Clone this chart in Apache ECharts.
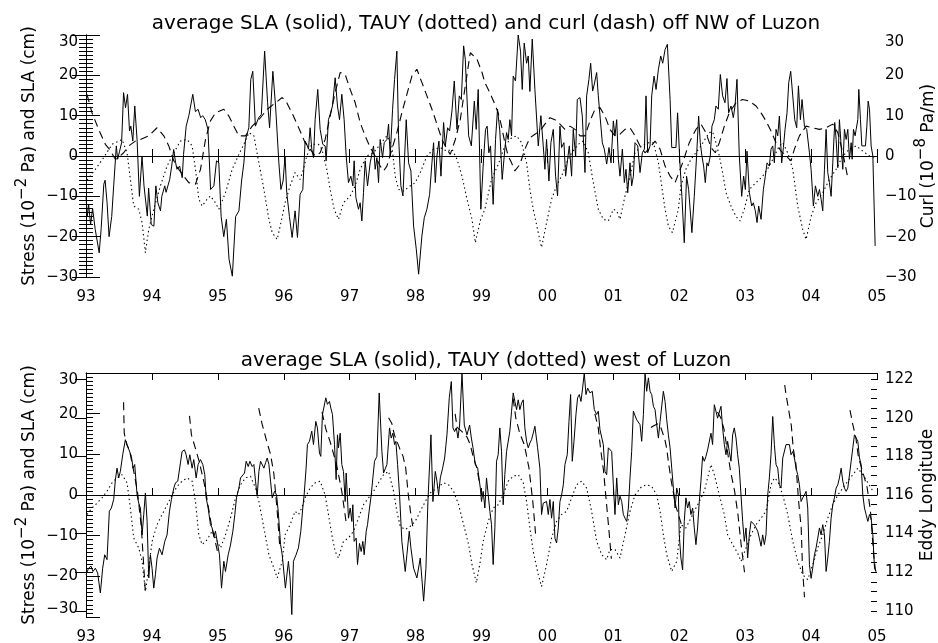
<!DOCTYPE html>
<html>
<head>
<meta charset="utf-8">
<script src="https://cdn.jsdelivr.net/npm/echarts@6/dist/echarts.min.js"></script>
<style>
html, body { margin: 0; background: #fff; }
#chart { width: 938px; height: 643px; }
</style>
</head>
<body>
<div id="chart"></div>
<script>
// time axis: years since Jan 1993
const yearLabels = ['93', '94', '95', '96', '97', '98', '99', '00', '01', '02', '03', '04', '05']
const eddyTicks = [110, 112, 114, 116, 118, 120, 122]
const eddyMinorTicks = [110, 110.5, 111, 111.5, 112, 112.5, 113, 113.5, 114, 114.5, 115, 115.5, 116, 116.5, 117, 117.5, 118, 118.5, 119, 119.5, 120, 120.5, 121, 121.5, 122]

const topTitle = 'average SLA (solid), TAUY (dotted) and curl (dash) off NW of Luzon'
const bottomTitle = 'average SLA (solid), TAUY (dotted) west of Luzon'

// top panel: off NW of Luzon
const slaNW = [
    [0.00,-10],[0.02,-15],[0.04,-12],[0.07,-17],[0.10,-13],[0.14,-18.2],[0.20,-24],[0.23,-18],[0.27,-7],[0.29,-6],[0.32,-11.6],[0.35,-20],[0.39,-15],[0.42,-7.4],[0.45,0],[0.46,2.5],[0.48,-0.8],[0.51,1.2],[0.54,3.3],[0.57,15.7],[0.60,12],[0.63,15.3],[0.66,6.2],[0.68,7.4],[0.71,3.7],[0.74,12.4],[0.775,4],[0.81,-10],[0.85,0],[0.88,-7.4],[0.93,-14.9],[0.95,-8],[0.99,-17],
    [1.03,-17.4],[1.06,-7.4],[1.09,-11.6],[1.13,-13.6],[1.15,-10],[1.195,-7.4],[1.215,-9],[1.27,-5.8],[1.30,-2.5],[1.33,1.6],[1.36,-1.7],[1.38,-3.3],[1.42,-2.5],[1.46,-5.4],[1.48,0.4],[1.52,7.4],[1.56,10],[1.62,15.3],[1.66,11],[1.70,11.6],[1.74,9.5],[1.77,10],[1.81,9],[1.85,6.6],[1.89,-8.3],[1.94,-7.4],[1.98,-1.2],
    [2.015,-1.7],[2.05,-15],[2.09,-20],[2.13,-15.7],[2.17,-25.6],[2.22,-29.8],[2.27,-15],[2.32,-13.6],[2.36,-6.2],[2.395,-1.7],[2.42,4],[2.47,7],[2.50,19],[2.53,21],[2.57,7.4],[2.62,9.5],[2.66,10.3],[2.71,26],[2.755,13.2],[2.785,7],[2.835,21],[2.876,12.4],[2.926,-1.7],[2.957,-8.3],[2.99,-6.2],
    [3.02,0],[3.045,-9],[3.086,-15],[3.127,-20.2],[3.172,-13.6],[3.208,-20.2],[3.248,-9.5],[3.289,-8.3],[3.324,3.7],[3.349,2.9],[3.375,1.7],[3.40,7],[3.425,1.7],[3.451,-0.4],[3.476,9],[3.516,16.5],[3.552,6.6],[3.592,2.9],[3.628,2.5],[3.643,-1.2],[3.678,9],[3.704,10.3],[3.739,12.4],[3.78,19.4],[3.815,12.4],[3.846,9],[3.881,15.3],[3.916,9],[3.947,0],[3.982,-6.6],
    [4.018,-5],[4.048,-7.4],[4.068,-1.2],[4.094,-10.3],[4.134,-13.2],[4.159,-11.6],[4.185,-16.1],[4.21,-9],[4.235,-1.2],[4.271,-7.4],[4.311,-1.7],[4.362,2.5],[4.387,-3.3],[4.413,-0.4],[4.438,-6.6],[4.463,4.1],[4.499,-0.4],[4.524,3.3],[4.565,4.1],[4.59,7.9],[4.615,0],[4.651,11.6],[4.681,19],[4.716,26],[4.742,5],[4.777,-7.4],[4.808,-9.9],[4.858,9],[4.894,-1.7],[4.929,-3.7],[4.97,-17.4],
    [5.01,-23],[5.046,-29.3],[5.096,-19.8],[5.132,-15.3],[5.172,-13.2],[5.213,-9.5],[5.248,-1.7],[5.273,3.3],[5.299,-6.6],[5.324,0],[5.354,3.7],[5.385,-5],[5.425,8.3],[5.451,2.5],[5.486,7],[5.516,6.2],[5.552,11.2],[5.587,18.6],[5.628,6.6],[5.663,14.9],[5.694,14],[5.729,27.3],[5.754,24],[5.78,24],[5.805,5],[5.846,2.5],[5.891,13.6],[5.92,6.6],[5.95,16.5],[5.99,-13.2],
    [6.025,-2.5],[6.061,6.6],[6.086,7.4],[6.111,0.8],[6.137,2.5],[6.177,-12],[6.213,4.1],[6.243,11.6],[6.278,6.2],[6.314,-5.8],[6.354,1.7],[6.38,5.8],[6.405,4.1],[6.43,9],[6.456,5],[6.481,19.8],[6.516,18.6],[6.557,30],[6.592,26],[6.618,16.5],[6.648,28],[6.684,23],[6.709,24.8],[6.734,16],[6.77,29],[6.81,16.5],[6.861,2.5],[6.901,10],[6.937,2.5],[6.962,-3.3],[6.987,4.1],
    [7.023,-6.2],[7.053,3.3],[7.089,6.6],[7.124,-5],[7.154,-9.9],[7.19,7.4],[7.215,2.1],[7.251,3.3],[7.276,-5],[7.306,-0.8],[7.332,2.5],[7.367,-5],[7.392,6.6],[7.428,0],[7.453,14],[7.494,14.5],[7.529,9.9],[7.57,-4.1],[7.595,14.9],[7.63,19],[7.656,23],[7.686,16.1],[7.711,17.8],[7.747,20.7],[7.772,14.9],[7.797,15.3],[7.833,3.3],[7.863,1.7],[7.899,-2],[7.934,2.1],[7.965,-1.7],
    [8.0,8.7],[8.025,5],[8.051,9],[8.076,-0.8],[8.101,-5],[8.137,1.7],[8.167,-6.6],[8.192,-3.3],[8.218,-9.1],[8.253,-1.7],[8.278,-7.4],[8.304,-5],[8.329,3.3],[8.37,2.5],[8.405,-4.1],[8.44,0.8],[8.471,1.7],[8.496,14.9],[8.521,0.8],[8.557,2.5],[8.582,14.9],[8.618,19.8],[8.648,16.5],[8.684,21.5],[8.719,24.8],[8.749,23],[8.785,26.4],[8.82,27.7],[8.861,14],[8.886,2.1],[8.95,2.1],[8.975,10.7],
    [9.01,-1.7],[9.04,-10],[9.076,-21.5],[9.111,-5],[9.142,-8.3],[9.192,-19],[9.228,-10],[9.263,0],[9.294,9.9],[9.319,3.3],[9.344,0],[9.37,-2.5],[9.395,-6.6],[9.42,-1.7],[9.44,-2.5],[9.471,0],[9.496,7.4],[9.532,9],[9.557,12.4],[9.592,11.6],[9.623,20.2],[9.658,14.9],[9.694,13.2],[9.724,19.2],[9.749,10.7],[9.785,12.4],[9.82,9.5],[9.846,12.4],[9.876,19],[9.911,0],[9.947,-10],[9.977,-5],
    [10.003,-8.3],[10.028,1.2],[10.063,-9],[10.099,-12.4],[10.124,-11.6],[10.154,-13.6],[10.18,-16.5],[10.205,-12.4],[10.241,-15.7],[10.276,-8.3],[10.306,-5],[10.332,-1.7],[10.367,-2.5],[10.392,1.7],[10.418,2.5],[10.443,-1.7],[10.468,6.6],[10.494,5],[10.519,9.9],[10.554,-1.7],[10.58,2.1],[10.605,6.6],[10.635,10.7],[10.661,18.2],[10.691,21],[10.722,14.9],[10.752,9],[10.782,7],[10.808,17.4],[10.838,9],[10.863,14],[10.899,7.4],[10.934,6.6],[10.975,0.8],
    [11.0,-3.3],[11.035,-12.4],[11.066,-7.4],[11.101,-10],[11.127,-8.3],[11.152,-10.7],[11.177,-13.6],[11.203,-3.3],[11.228,6.6],[11.253,-4.1],[11.278,-6.6],[11.304,-10],[11.329,-1.7],[11.359,8.3],[11.38,4.1],[11.405,-2.9],[11.43,9],[11.456,2.5],[11.481,-3.3],[11.506,6.6],[11.532,4.1],[11.557,6.6],[11.582,-0.8],[11.608,3.3],[11.623,-0.8],[11.643,6.6],[11.668,5],[11.684,6.6],[11.709,9],[11.724,16.5],[11.749,9],[11.77,2.5],[11.795,2.9],[11.825,2.5],[11.846,7.4],[11.866,13.6],[11.886,11.6],[11.911,2.5],[11.937,0],[11.972,-22.3]
]
const tauyNW = [
    [0.015,-6],[0.142,-3.3],[0.268,-0.4],[0.395,2.9],[0.547,4.1],[0.623,0.8],[0.673,-5.8],[0.724,-12.4],[0.8,-13.2],[0.851,-16.5],[0.901,-24],[0.952,-18.2],
    [1.028,-13.2],[1.129,-7.4],[1.23,-2.5],[1.332,0.8],[1.433,3.7],[1.534,4.1],[1.61,2.5],[1.661,-3.3],[1.711,-10.7],[1.762,-12.4],[1.838,-10.7],[1.888,-9.9],[1.964,-11.6],
    [2.015,-13.2],[2.116,-9.1],[2.218,-3.3],[2.319,0.4],[2.395,2.9],[2.471,5.8],[2.547,5],[2.623,-1.7],[2.699,-8.3],[2.775,-15.7],[2.825,-19],[2.901,-20.7],[2.977,-15],
    [3.02,-11.6],[3.096,-7.4],[3.172,-4.1],[3.248,-5.8],[3.299,-3.3],[3.349,0],[3.425,2.9],[3.527,2.9],[3.577,1.7],[3.653,-3.3],[3.704,-8.3],[3.765,-13.2],[3.83,-15.7],[3.906,-11.6],
    [4.008,-9.9],[4.084,-7.4],[4.159,-3.3],[4.261,0],[4.362,0.8],[4.463,2.9],[4.565,5],[4.641,2.5],[4.691,-5],[4.742,-8.3],[4.818,-8.7],[4.919,-7.4],[4.995,-6.6],
    [5.071,-4.1],[5.172,0],[5.273,1.7],[5.375,2.1],[5.476,1.2],[5.552,1.7],[5.628,-0.8],[5.704,-5],[5.78,-10.7],[5.856,-15.7],[5.906,-21.5],[5.982,-16],
    [6.051,-13.2],[6.152,-5.8],[6.253,-2.1],[6.354,2.5],[6.456,4.5],[6.532,5],[6.608,3.3],[6.684,-1.7],[6.734,-8.3],[6.785,-13.2],[6.861,-19],[6.911,-22.7],[6.987,-16.5],
    [7.063,-10.7],[7.139,-7.4],[7.215,-5],[7.291,-1.7],[7.367,0.8],[7.468,2.9],[7.544,3.7],[7.62,0.8],[7.696,-6.6],[7.772,-13.2],[7.848,-15.7],[7.924,-16.1],
    [8.0,-13.2],[8.051,-13.6],[8.101,-15.7],[8.177,-9.9],[8.253,-5],[8.329,0.8],[8.43,2.5],[8.532,3.3],[8.608,3.3],[8.684,-1.7],[8.734,-7.4],[8.785,-13.2],[8.835,-17.4],[8.896,-19],[8.987,-13.2],
    [9.025,-7.4],[9.101,-3.3],[9.177,-0.8],[9.253,0.8],[9.329,2.5],[9.405,4.5],[9.456,5.8],[9.506,6],[9.557,3.3],[9.608,0],[9.658,-4.1],[9.709,-9.1],[9.785,-12.4],[9.861,-15],[9.922,-16.1],[9.987,-13.2],
    [10.063,-8.3],[10.165,-6.6],[10.266,-5],[10.367,-2.5],[10.443,0],[10.519,2.5],[10.57,3.3],[10.646,0.8],[10.722,-3.3],[10.797,-12.4],[10.873,-18.2],[10.924,-20.7],
    [11.0,-15],[11.076,-11.6],[11.177,-9.1],[11.278,-5.8],[11.38,-3.3],[11.481,0],[11.582,1.7],[11.684,2.5],[11.785,1.2],[11.886,0],[11.987,-0.4]
]
const curlNW = [
    [0.015,15.3],[0.091,10.7],[0.192,6.6],[0.294,2.9],[0.354,1.7],[0.446,-0.8],[0.486,-0.4],[0.572,0.8],[0.648,2.5],[0.749,3.7],[0.825,4.1],[0.952,5],
    [1.078,7],[1.18,5],[1.256,2.5],[1.332,-1.2],[1.408,-3.3],[1.483,-5],[1.559,-6.6],[1.661,-7],[1.737,-3.3],[1.813,4.1],[1.888,8.7],[1.964,10.7],
    [2.091,11.6],[2.167,9.9],[2.243,7.4],[2.319,5],[2.42,5],[2.521,7.4],[2.623,9],[2.749,11.6],[2.876,13.2],[2.977,14.5],
    [3.046,13.2],[3.147,9.9],[3.248,6.2],[3.324,3.3],[3.4,1.7],[3.476,0],[3.552,0.8],[3.628,4.1],[3.704,9.9],[3.78,15.7],[3.856,20.7],[3.932,20.2],
    [4.008,16.5],[4.084,13.2],[4.159,8.3],[4.235,5],[4.311,2.1],[4.387,0],[4.463,-2.5],[4.514,-3.7],[4.565,-2.5],[4.641,1.7],[4.716,5.8],[4.792,10.7],[4.868,15.3],[4.944,19.8],
    [5.02,21.5],[5.096,18.2],[5.172,14.9],[5.248,11.6],[5.324,7.9],[5.4,4.1],[5.476,1.7],[5.526,0.4],[5.603,4.1],[5.678,9],[5.754,17.4],[5.83,25.6],[5.932,24],
    [6.008,20.7],[6.051,18.2],[6.127,15.7],[6.203,12.8],[6.253,10.7],[6.304,7.4],[6.354,3.3],[6.405,0],[6.456,-1.7],[6.506,-3.7],[6.582,-2.1],[6.658,1.7],[6.734,4.5],[6.81,5.4],[6.886,6.2],[6.962,7.9],
    [7.038,9.5],[7.114,9],[7.19,7.9],[7.266,6.6],[7.342,7.4],[7.418,6.6],[7.494,5],[7.57,5],[7.646,8.7],[7.722,11.6],[7.797,12],[7.873,9.9],[7.949,6.6],
    [8.025,5],[8.101,5.4],[8.177,6.6],[8.253,7],[8.329,5],[8.405,2.5],[8.481,0.8],[8.557,2.1],[8.633,3.7],[8.709,1.7],[8.785,-2.5],[8.861,-5],[8.937,-6.6],
    [9.051,-1.7],[9.152,3.3],[9.253,6.6],[9.329,7.9],[9.405,5.8],[9.481,2.1],[9.547,0.8],[9.608,3.3],[9.684,7.4],[9.759,10.7],[9.861,13.2],[9.962,14],
    [10.063,13.6],[10.165,12.4],[10.241,10.7],[10.316,8.7],[10.392,6.2],[10.468,3.3],[10.544,1.2],[10.62,0],[10.696,-1.2],[10.747,1.7],[10.823,5],[10.924,7.4],
    [11.025,7],[11.127,6.6],[11.228,7],[11.329,7.9],[11.405,5.8],[11.481,0.8],[11.557,-5.4]
]

// bottom panel: west of Luzon
const slaW = [
    [0.0,-19.6],[0.04,-18],[0.076,-17.5],[0.106,-18.8],[0.142,-18],[0.177,-19.2],[0.218,-24.1],[0.253,-18],[0.284,-14.7],[0.319,-15.9],[0.354,-4],[0.385,-3.2],[0.42,-1.1],[0.446,3.8],[0.471,6.6],[0.496,4.2],[0.521,5.8],[0.557,9.9],[0.597,13.6],[0.623,12.4],[0.648,12.8],[0.689,9.5],[0.714,6.6],[0.739,7.5],[0.775,0],[0.8,-2],[0.825,-3.2],[0.851,-9.8],[0.876,-4.8],[0.901,0.5],[0.927,-6.5],[0.952,-20.4],[0.977,-14.7],
    [1.002,-18],[1.028,-22.9],[1.053,-19.6],[1.078,-15.5],[1.114,-13.1],[1.154,-14.7],[1.195,-11.4],[1.23,-9.8],[1.266,-4],[1.296,-1.1],[1.332,1.7],[1.357,3],[1.392,3.4],[1.418,3],[1.458,10.7],[1.494,11.1],[1.519,9.9],[1.549,7.5],[1.575,9.9],[1.61,6.6],[1.635,8.7],[1.671,4.2],[1.701,7.5],[1.737,8.7],[1.772,7.5],[1.802,5],[1.823,-0.7],[1.853,-3.2],[1.888,-7.3],[1.914,-8.1],[1.939,-10.2],[1.964,-8.9],[1.99,-11.4],
    [2.025,-14.7],[2.056,-22.9],[2.091,-16.3],[2.116,-18.8],[2.157,-14.7],[2.192,-12.3],[2.228,-8.9],[2.258,-4.8],[2.283,-0.7],[2.319,1.7],[2.344,4.2],[2.369,4.6],[2.405,5.4],[2.43,8.3],[2.461,7],[2.486,8.3],[2.521,7],[2.547,7.5],[2.572,3.4],[2.597,-0.3],[2.623,5.8],[2.648,8.3],[2.673,8.7],[2.699,6.6],[2.724,7.9],[2.749,9.1],[2.775,7.5],[2.8,3.4],[2.825,-0.7],[2.861,0.9],[2.891,0],[2.916,-4],[2.952,-12.2],[2.977,-14.7],
    [3.025,-22.9],[3.071,-16.3],[3.096,-20.4],[3.122,-29.4],[3.147,-16.3],[3.187,-14.7],[3.223,-13],[3.258,-9],[3.289,-3.2],[3.309,0],[3.339,6.6],[3.359,12.4],[3.39,13.2],[3.425,15.7],[3.451,12.4],[3.486,18.1],[3.511,16.5],[3.542,10.3],[3.562,9.5],[3.587,19.8],[3.613,20.2],[3.638,23.9],[3.663,22.3],[3.694,23],[3.714,21.4],[3.739,19.8],[3.77,12.4],[3.795,3.8],[3.815,14.8],[3.83,11.6],[3.856,15.2],[3.881,7.5],[3.906,5.8],[3.932,-1.6],[3.947,5.4],[3.967,5],[3.982,-5.7],
    [4.008,-3.2],[4.033,-6.5],[4.048,-2.4],[4.068,-11.4],[4.099,-10.6],[4.119,-17.1],[4.149,-11.9],[4.175,-13.9],[4.2,-11.4],[4.22,-14.7],[4.251,-8.9],[4.271,-7.3],[4.301,-3.2],[4.327,0],[4.352,4.2],[4.377,8.3],[4.413,9.5],[4.448,25.1],[4.489,10.7],[4.514,5.4],[4.539,5.8],[4.565,7.5],[4.605,16.5],[4.63,14],[4.656,15.2],[4.681,12.4],[4.701,13.2],[4.727,7.5],[4.757,0],[4.792,-11.4],[4.818,-11.4],[4.843,-18.8],[4.868,-14.7],[4.904,-8.9],[4.929,-13],[4.97,-18],
    [5.02,-20.4],[5.071,-15.5],[5.122,-26.1],[5.157,-18],[5.187,-1.6],[5.233,14.8],[5.263,-1.6],[5.299,5.8],[5.324,3.4],[5.349,0],[5.375,4.2],[5.41,6.6],[5.441,9.1],[5.476,14.8],[5.511,23.9],[5.542,27.9],[5.567,16.5],[5.592,15.6],[5.618,16.5],[5.643,14],[5.668,17.2],[5.704,30],[5.739,17.2],[5.78,14.8],[5.82,17.2],[5.846,14],[5.871,11.6],[5.906,7.5],[5.942,6.6],[5.982,1.7],
    [6.0,-1.6],[6.025,0.9],[6.051,-3.2],[6.076,4.2],[6.101,3.8],[6.127,-4],[6.152,-7.3],[6.177,-17.1],[6.203,-8.1],[6.228,8.3],[6.253,9.9],[6.278,16.5],[6.304,10.7],[6.329,-2.4],[6.354,5],[6.38,10.7],[6.405,10.3],[6.43,15.7],[6.456,20.6],[6.481,25.1],[6.506,23],[6.532,21],[6.557,23.4],[6.582,21],[6.608,22.6],[6.633,23.4],[6.658,16.5],[6.684,13.2],[6.709,11.6],[6.734,12.8],[6.759,13.6],[6.785,15.2],[6.81,16.9],[6.851,11.6],[6.886,6.6],[6.911,-4.8],[6.937,-2],[6.962,-2.4],[6.987,-1.6],
    [7.013,-4.8],[7.038,-1.1],[7.063,-5.7],[7.089,-1.6],[7.114,-10.6],[7.139,-11.8],[7.165,-8.1],[7.19,-1.6],[7.215,0],[7.241,2.5],[7.266,7.5],[7.301,9.9],[7.327,18.1],[7.352,24.7],[7.377,8.3],[7.403,13.2],[7.433,19.8],[7.458,23.9],[7.484,24.7],[7.509,23],[7.534,26.3],[7.559,30],[7.585,24.7],[7.61,26.3],[7.646,25.1],[7.681,25.5],[7.711,21],[7.747,19.8],[7.772,20.6],[7.797,16.1],[7.823,16.5],[7.848,12.4],[7.873,5.8],[7.899,5],[7.924,11.6],[7.949,12],[7.975,10.7],
    [8.0,2.5],[8.025,-4.8],[8.051,4.2],[8.076,-2.4],[8.101,-0.3],[8.127,-1.6],[8.152,-4.8],[8.177,-5.7],[8.203,-6.5],[8.228,-3.2],[8.253,4.2],[8.278,10.7],[8.304,20.6],[8.329,20.2],[8.354,18.5],[8.38,18.1],[8.405,17.3],[8.43,13.2],[8.456,19.8],[8.481,30],[8.506,25.5],[8.532,28.8],[8.557,25.5],[8.582,24.7],[8.608,21.8],[8.633,21],[8.658,17.3],[8.684,14],[8.709,18.1],[8.734,18.1],[8.759,25.5],[8.785,23],[8.81,18.5],[8.835,14.8],[8.861,11.6],[8.886,6.6],[8.911,1.7],[8.937,-3.2],[8.962,1.7],[8.987,0],
    [9.0,-9.8],[9.025,-15.5],[9.051,-18.4],[9.076,-6.5],[9.101,-0.7],[9.127,-3.2],[9.152,-1.6],[9.177,-4.8],[9.203,-3.2],[9.228,-8.1],[9.253,-12.2],[9.278,-8.1],[9.304,-1.6],[9.329,3.4],[9.354,9.5],[9.38,8.3],[9.405,9.5],[9.43,11.1],[9.456,10.7],[9.481,15.2],[9.506,12.4],[9.532,22.2],[9.557,22.6],[9.582,18.9],[9.608,18.5],[9.633,21.8],[9.658,16.5],[9.684,12.4],[9.709,9.9],[9.734,13.2],[9.759,10.7],[9.785,8.3],[9.81,14.8],[9.835,16.5],[9.861,14],[9.886,9.9],[9.911,6.6],[9.937,0],[9.962,-6.5],[9.987,-11.4],
    [10.013,-8.1],[10.038,-15.5],[10.063,-9.8],[10.089,-6.5],[10.114,-6.5],[10.139,-7.3],[10.165,-8.1],[10.19,-8.9],[10.215,-10.6],[10.241,-12.6],[10.266,-9.8],[10.291,-12.2],[10.316,-9.8],[10.342,0],[10.367,4.2],[10.392,9.9],[10.418,19.3],[10.443,12.4],[10.468,7.5],[10.494,6.6],[10.519,2.5],[10.544,1.7],[10.57,9.1],[10.595,9.1],[10.62,12.4],[10.646,12.4],[10.671,12.4],[10.696,9.9],[10.722,10.7],[10.747,9.1],[10.772,6.6],[10.797,5],[10.823,2.5],[10.848,-1.6],[10.873,-0.7],[10.899,0],[10.924,0.9],[10.949,-3.2],[10.975,-17.1],
    [11.0,-20.5],[11.025,-18],[11.051,-14.7],[11.076,-13],[11.101,-10.6],[11.127,-8.1],[11.152,-9.8],[11.177,-7.3],[11.203,-9.8],[11.228,-18.8],[11.253,-15.5],[11.278,-11.4],[11.304,-5.7],[11.329,-2.4],[11.354,-0.7],[11.38,1.7],[11.405,2.5],[11.43,4.2],[11.456,6.6],[11.481,3.4],[11.506,1.7],[11.532,0.9],[11.557,1.7],[11.582,1.7],[11.608,8.3],[11.633,11.6],[11.658,14.8],[11.684,14.4],[11.709,13.2],[11.734,9.1],[11.759,7.5],[11.785,0],[11.81,-3.2],[11.835,-4.8],[11.861,-6.5],[11.886,-4.8],[11.911,-5.7],[11.937,-9.8],[11.962,-18],[11.987,-18.8]
]
const tauyW = [
    [0.015,-4.8],[0.091,-3.2],[0.167,-2],[0.243,-0.7],[0.319,0.9],[0.395,3],[0.471,4.2],[0.547,5],[0.623,3],[0.673,-3.2],[0.724,-10.6],[0.8,-13],[0.851,-16.3],[0.901,-23.7],[0.952,-18],
    [1.003,-11.4],[1.078,-7.3],[1.154,-4.8],[1.23,-2.4],[1.306,0],[1.382,2.1],[1.458,3.4],[1.534,4.2],[1.61,3.4],[1.661,-1.6],[1.711,-9.8],[1.762,-12.2],[1.838,-11],[1.914,-8.9],[1.99,-11.4],
    [2.041,-13],[2.116,-9.8],[2.192,-5.7],[2.268,-0.7],[2.344,2.5],[2.42,4.2],[2.496,4.6],[2.572,1.7],[2.623,-1.6],[2.699,-8.1],[2.775,-14.7],[2.851,-18],[2.901,-20.4],[2.977,-16.3],
    [3.02,-9.8],[3.096,-7.3],[3.172,-4],[3.223,-4.8],[3.273,-3.2],[3.324,-0.7],[3.4,1.7],[3.476,3],[3.552,3.4],[3.628,0],[3.678,-4.8],[3.729,-9.8],[3.78,-13.9],[3.83,-15.5],[3.906,-11.4],[3.982,-10.6],
    [4.058,-8.9],[4.134,-5.7],[4.21,-2.4],[4.286,-0.7],[4.362,0.9],[4.438,3],[4.514,5],[4.59,5.8],[4.666,0.9],[4.716,-4],[4.767,-7.7],[4.843,-8.5],[4.919,-7.7],[4.995,-6.5],
    [5.071,-4],[5.147,-1.6],[5.223,0.5],[5.324,1.7],[5.425,3],[5.501,2.5],[5.577,0.9],[5.653,-2.4],[5.729,-7.3],[5.805,-12.2],[5.856,-17.1],[5.922,-21.6],[5.982,-16.3],
    [6.025,-11.4],[6.101,-6.5],[6.177,-3.2],[6.253,-2.4],[6.329,0],[6.405,3.4],[6.481,4.6],[6.557,5],[6.633,3],[6.684,-1.6],[6.734,-8.1],[6.785,-13.9],[6.861,-19.6],[6.911,-22.5],[6.987,-17.1],
    [7.063,-10.6],[7.139,-6.5],[7.215,-4.8],[7.291,-4],[7.367,-0.7],[7.443,2.5],[7.519,3.4],[7.595,1.7],[7.671,-4],[7.747,-11.4],[7.823,-14.7],[7.899,-15.9],[7.949,-13.4],
    [8.025,-13.4],[8.101,-15.5],[8.177,-9.8],[8.253,-4],[8.329,0],[8.43,2.1],[8.506,2.5],[8.582,2.1],[8.658,0],[8.709,-4],[8.759,-9.8],[8.81,-14.7],[8.886,-18.8],[8.962,-16.3],
    [9.025,-7.3],[9.101,-8.1],[9.203,-4.8],[9.304,-1.6],[9.38,0.9],[9.43,4.2],[9.481,7.5],[9.532,5],[9.582,1.7],[9.633,-1.6],[9.684,-4.8],[9.734,-9.8],[9.81,-12.2],[9.886,-14.3],[9.937,-16.3],
    [10.013,-13],[10.089,-9.8],[10.165,-7.3],[10.241,-5.7],[10.316,-4],[10.392,2.5],[10.443,4.2],[10.494,3.4],[10.57,0],[10.646,-4.8],[10.722,-11.4],[10.797,-16.3],[10.873,-19.6],[10.949,-20.8],
    [11.025,-17.1],[11.101,-13],[11.177,-9.8],[11.253,-5.7],[11.329,-2.4],[11.405,0],[11.481,1.7],[11.557,3.4],[11.633,5],[11.709,6.6],[11.785,5],[11.861,3],[11.937,1]
]
// eddy longitude, one westward track per season
const eddyTracks = [
    [[0.57,120.8],[0.58,119.2],[0.62,118.6],[0.66,118.3],[0.72,117.3],[0.78,116.2],[0.84,114.3],[0.9,111.0]],
    [[1.57,120.1],[1.6,119.1],[1.67,118.3],[1.72,117.7],[1.8,116.5],[1.9,114.5],[2.0,113.0]],
    [[2.62,120.5],[2.67,119.7],[2.74,118.8],[2.8,118.1],[2.85,117.1],[2.9,115.2],[2.94,113.3]],
    [[3.58,120.3],[3.64,119.4],[3.7,118.8],[3.8,117.6],[3.88,116.2],[3.95,114.5]],
    [[4.59,120.0],[4.64,119.7],[4.68,119.1],[4.76,118.4],[4.81,118.0],[4.85,117.4],[4.89,116.0],[4.92,115.2],[4.96,114.3]],
    [[5.6,120.2],[5.63,119.5],[5.7,119.3],[5.78,119.0],[5.83,118.6],[5.88,117.9],[5.93,117.4],[5.97,116.6]],
    [[6.48,121.0],[6.52,120.0],[6.58,119.2],[6.65,118.6],[6.72,117.4],[6.78,115.6],[6.82,114.0]],
    [[7.72,120.2],[7.77,119.5],[7.81,118.3],[7.85,117.3],[7.89,115.8],[7.93,114.3],[7.97,112.7]],
    [[8.57,119.5],[8.62,119.6],[8.68,119.7],[8.72,119.5],[8.78,118.9],[8.81,118.4],[8.84,117.6],[8.88,116.7],[8.95,115.4],[9.03,114.5]],
    [[9.58,120.3],[9.63,120.0],[9.68,119.4],[9.73,118.3],[9.78,117.2],[9.84,116.2],[9.89,115.0],[9.94,113.4],[9.99,112.0]],
    [[10.6,121.7],[10.62,121.2],[10.67,120.2],[10.7,119.6],[10.73,118.4],[10.77,117.6],[10.81,115.7],[10.85,114.3],[10.87,112.2],[10.9,110.7]],
    [[11.59,120.4],[11.63,119.7],[11.68,118.95],[11.72,117.9],[11.75,117.6],[11.8,117.0],[11.85,116.4],[11.9,115.2],[11.95,112.9],[11.98,112.0]]
]

const font = 'DejaVu Sans'
const ink = '#000'
const minus = v => String(v).replace('-', '\u2212')

const chart = echarts.init(document.getElementById('chart'), null, { renderer: 'canvas' })

function timeAxis(grid, position) {
    return {
        type: 'value', gridIndex: grid, position: position, min: 0, max: 12, interval: 1,
        axisLine: { lineStyle: { color: ink, width: 1 } },
        axisTick: { inside: true, length: 7, lineStyle: { color: ink } },
        axisLabel: {
            show: position === 'bottom', margin: 13, color: ink, fontFamily: font, fontSize: 15,
            formatter: v => yearLabels[Math.round(v)]
        },
        splitLine: { show: false }
    }
}

function stressAxis(grid, position, name, nameGap, minAlign) {
    return {
        type: 'value', gridIndex: grid, position: position, min: -30, max: 30, interval: 10,
        name: name, nameLocation: 'middle', nameRotate: 90, nameGap: nameGap, nameMoveOverlap: false,
        nameTextStyle: {
            color: ink, fontFamily: font, fontSize: 17,
            rich: {
                a: { color: ink, fontFamily: font, fontSize: 17, verticalAlign: 'bottom' },
                s: { color: ink, fontFamily: font, fontSize: 15, verticalAlign: 'bottom', padding: [0, 0, 8, 0] }
            }
        },
        axisLine: { lineStyle: { color: ink, width: 1 } },
        axisTick: { inside: true, length: 14, lineStyle: { color: ink } },
        minorTick: { show: true, splitNumber: 10, length: 7, lineStyle: { color: ink } },
        axisLabel: {
            margin: 8, color: ink, fontFamily: font, fontSize: 15, formatter: minus,
            verticalAlignMaxLabel: 'top', verticalAlignMinLabel: minAlign
        },
        splitLine: { show: false }
    }
}

function eddyAxis(values, length, withLabels) {
    return {
        type: 'value', gridIndex: 1, position: 'right', min: 109.68, max: 122.32,
        name: withLabels ? 'Eddy Longitude' : '', nameLocation: 'middle', nameRotate: 90, nameGap: 42,
        nameMoveOverlap: false,
        nameTextStyle: { color: ink, fontFamily: font, fontSize: 17 },
        axisLine: { show: withLabels, lineStyle: { color: ink, width: 1 } },
        axisTick: { inside: true, length: length, customValues: values, lineStyle: { color: ink } },
        axisLabel: { show: withLabels, customValues: eddyTicks, margin: 8, color: ink, fontFamily: font, fontSize: 15 },
        splitLine: { show: false }
    }
}

function curve(data, x, y, type) {
    return {
        type: 'line', xAxisIndex: x, yAxisIndex: y, data: data,
        showSymbol: false, symbol: 'none', silent: true,
        lineStyle: { color: ink, width: type === 'solid' ? 1 : 1.1, type: type }
    }
}

const zeroLine = {
    silent: true, symbol: 'none', label: { show: false },
    lineStyle: { color: ink, width: 1, type: 'solid' },
    data: [{ yAxis: 0 }]
}

const series = [
    Object.assign(curve(slaNW, 0, 0, 'solid'), { markLine: zeroLine }),
    curve(tauyNW, 0, 0, [1.4, 3]),
    curve(curlNW, 0, 1, [8, 5]),
    Object.assign(curve(slaW, 2, 2, 'solid'), { markLine: zeroLine }),
    curve(tauyW, 2, 2, [1.4, 3])
]
eddyTracks.forEach(track => series.push(curve(track, 2, 3, [8, 5])))

const titleStyle = { color: ink, fontFamily: font, fontSize: 20, fontWeight: 'normal' }

chart.setOption({
    animation: false,
    backgroundColor: '#fff',
    title: [
        { text: topTitle, left: 481, top: 9, textAlign: 'center', textStyle: titleStyle },
        { text: bottomTitle, left: 481, top: 346, textAlign: 'center', textStyle: titleStyle }
    ],
    grid: [
        { left: 86, top: 35, width: 791, height: 242, outerBoundsMode: 'none' },
        { left: 86, top: 373, width: 791, height: 244, outerBoundsMode: 'none' }
    ],
    xAxis: [timeAxis(0, 'bottom'), timeAxis(0, 'top'), timeAxis(1, 'bottom'), timeAxis(1, 'top')],
    yAxis: [
        stressAxis(0, 'left', '{a|Stress (10}{s|\u22122}{a| Pa) and SLA (cm)}', 48, 'middle'),
        stressAxis(0, 'right', '{a|Curl (10}{s|\u22128}{a| Pa/m)}', 37, 'middle'),
        stressAxis(1, 'left', '{a|Stress (10}{s|\u22122}{a| Pa) and SLA (cm)}', 48, 'bottom'),
        eddyAxis(eddyTicks, 11, true),
        eddyAxis(eddyMinorTicks, 6, false)
    ],
    series: series
})
</script>
</body>
</html>
